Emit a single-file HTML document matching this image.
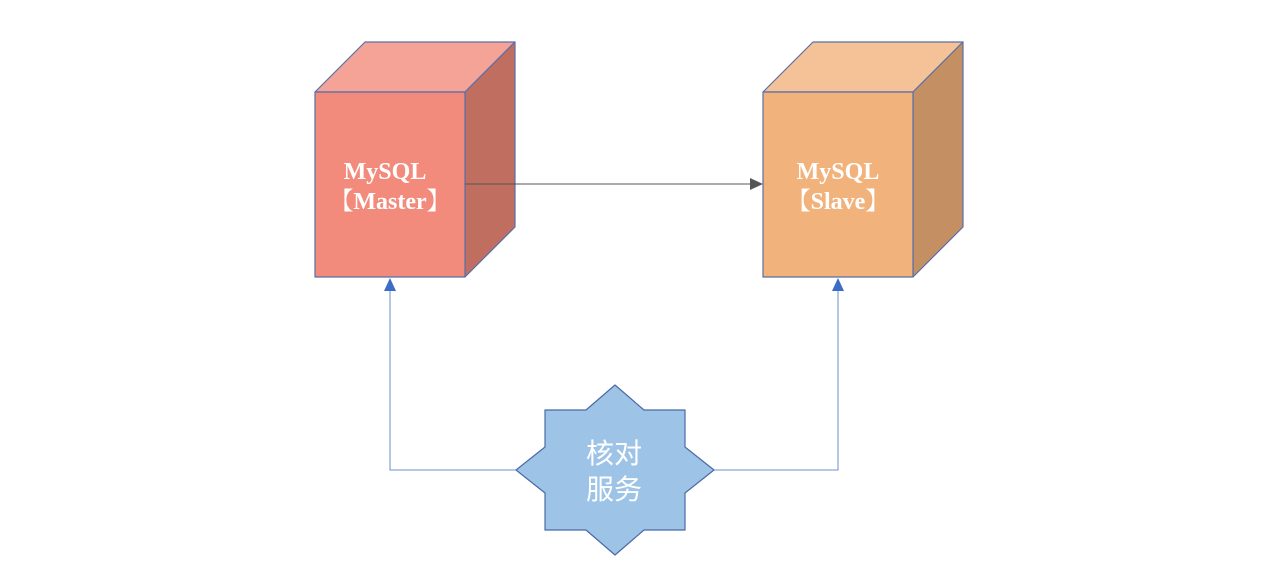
<!DOCTYPE html>
<html><head><meta charset="utf-8"><style>
html,body{margin:0;padding:0;background:#fff;width:1280px;height:586px;overflow:hidden}
</style></head><body>
<svg width="1280" height="586" viewBox="0 0 1280 586" xmlns="http://www.w3.org/2000/svg">
<g stroke="#5a6fa8" stroke-width="1.2" stroke-linejoin="round">
<polygon points="315,92 365,42 515,42 465,92" fill="#f4a396"/>
<polygon points="465,92 515,42 515,227 465,277" fill="#c06e60"/>
<rect x="315" y="92" width="150" height="185" fill="#f28b7b"/>
<polygon points="763,92 813,42 963,42 913,92" fill="#f5c298"/>
<polygon points="913,92 963,42 963,227 913,277" fill="#c49063"/>
<rect x="763" y="92" width="150" height="185" fill="#f1b27c"/>
</g>
<g font-family="'Liberation Serif','Noto Serif CJK SC',serif" font-weight="bold" font-size="24" fill="#fff" text-anchor="middle">
<text x="385" y="179">MySQL</text>
<text x="390" y="209">【Master】</text>
<text x="838" y="179">MySQL</text>
<text x="838" y="209">【Slave】</text>
</g>
<line x1="465" y1="184" x2="752" y2="184" stroke="#555" stroke-width="1"/>
<polygon points="763,184 750,178 750,190" fill="#555"/>
<polyline points="516,470 390,470 390,290" fill="none" stroke="#6f8fd0" stroke-width="1"/>
<polyline points="714,470 838,470 838,290" fill="none" stroke="#6f8fd0" stroke-width="1"/>
<polygon points="390,278 384,291 396,291" fill="#3d6cc4"/>
<polygon points="838,278 832,291 844,291" fill="#3d6cc4"/>
<polygon points="615,385 644,410 685,410 685,447 714,470 685,493 685,530 644,530 615,555 586,530 545,530 545,493 516,470 545,447 545,410 586,410" fill="#9dc3e6" stroke="#4a6aa8" stroke-width="1.2" stroke-linejoin="round"/>
<g font-family="'Noto Sans CJK SC',sans-serif" font-size="28" fill="#fff" text-anchor="middle">
<text x="614" y="463">核对</text>
<text x="614" y="499">服务</text>
</g>
</svg>
</body></html>
